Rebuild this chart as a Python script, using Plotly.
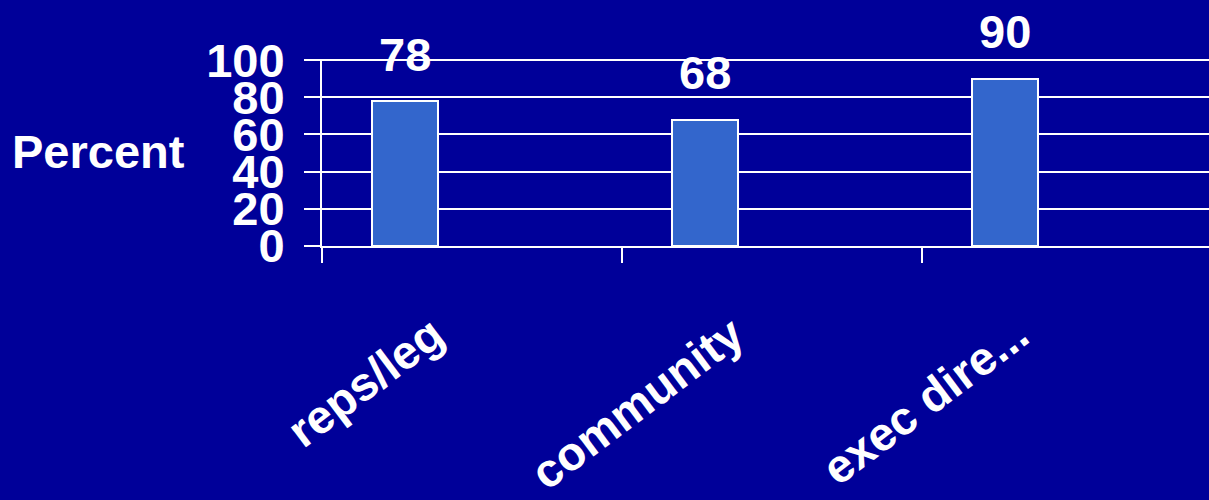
import plotly.graph_objects as go

categories = ["reps/leg", "community", "exec dire..."]
values = [78, 68, 90]
y_ticks = [0, 20, 40, 60, 80, 100]

BG = "#000099"
BAR = "#3366CC"
FONT = "Liberation Sans, Arial, sans-serif"
FS = 47

n = len(categories)
bar_offset = 0.277
bar_w = 0.22
label_offsets = [0.37, 0.37, 0.32]
bar_x = [i + bar_offset for i in range(n)]
label_x = [i + o for i, o in zip(range(n), label_offsets)]
x_range = [0, 2.957]
y_range = [0, 100.6]

fig = go.Figure()
fig.add_trace(go.Bar(
    x=bar_x, y=values, width=bar_w,
    marker=dict(color=BAR, line=dict(color="white", width=2)),
    showlegend=False, hoverinfo="skip",
))
# invisible trace to host the label axis
fig.add_trace(go.Scatter(x=label_x, y=[None] * n, xaxis="x2", yaxis="y",
                         showlegend=False, hoverinfo="skip"))

for xv, v in zip(bar_x, values):
    fig.add_annotation(x=xv, y=v, text=f"<b>{v}</b>", showarrow=False,
                       yshift=47, font=dict(family=FONT, size=FS, color="white"),
                       xanchor="center", yanchor="middle")

fig.add_annotation(xref="paper", yref="paper", x=-0.152, y=0.505,
                   text="<b>Percent</b>", showarrow=False,
                   xanchor="right", yanchor="middle",
                   font=dict(family=FONT, size=FS, color="white"))

fig.update_layout(
    width=1209, height=500,
    margin=dict(l=322, r=0, t=59, b=252),
    paper_bgcolor=BG, plot_bgcolor=BG,
    bargap=0,
    xaxis=dict(range=x_range, tickvals=list(range(n)), ticktext=[""] * n,
               ticks="outside", ticklen=15, tickwidth=2, tickcolor="white",
               showline=True, linecolor="white", linewidth=2,
               showgrid=False, zeroline=False, fixedrange=True),
    xaxis2=dict(range=x_range, overlaying="x", anchor="y", side="bottom",
                tickvals=label_x, ticktext=[f"<b>{c}</b>" for c in categories],
                tickangle=-37, ticks="outside", ticklen=42,
                tickcolor="rgba(0,0,0,0)", showline=False, showgrid=False,
                zeroline=False,
                tickfont=dict(family=FONT, size=FS, color="white")),
    yaxis=dict(range=y_range, tickvals=y_ticks,
               ticktext=[f"<b>{t}</b>" for t in y_ticks],
               ticks="outside", ticklen=16, tickwidth=2, tickcolor="white",
               ticklabelstandoff=10,
               showgrid=True, gridcolor="white", gridwidth=2,
               showline=True, linecolor="white", linewidth=2,
               zeroline=False,
               tickfont=dict(family=FONT, size=FS, color="white")),
)

fig.write_html(
    "out.html",
    config={"displayModeBar": False},
    post_script="document.body.style.margin='0';document.body.style.overflow='hidden';"
                "document.documentElement.style.background='" + BG + "';",
)
